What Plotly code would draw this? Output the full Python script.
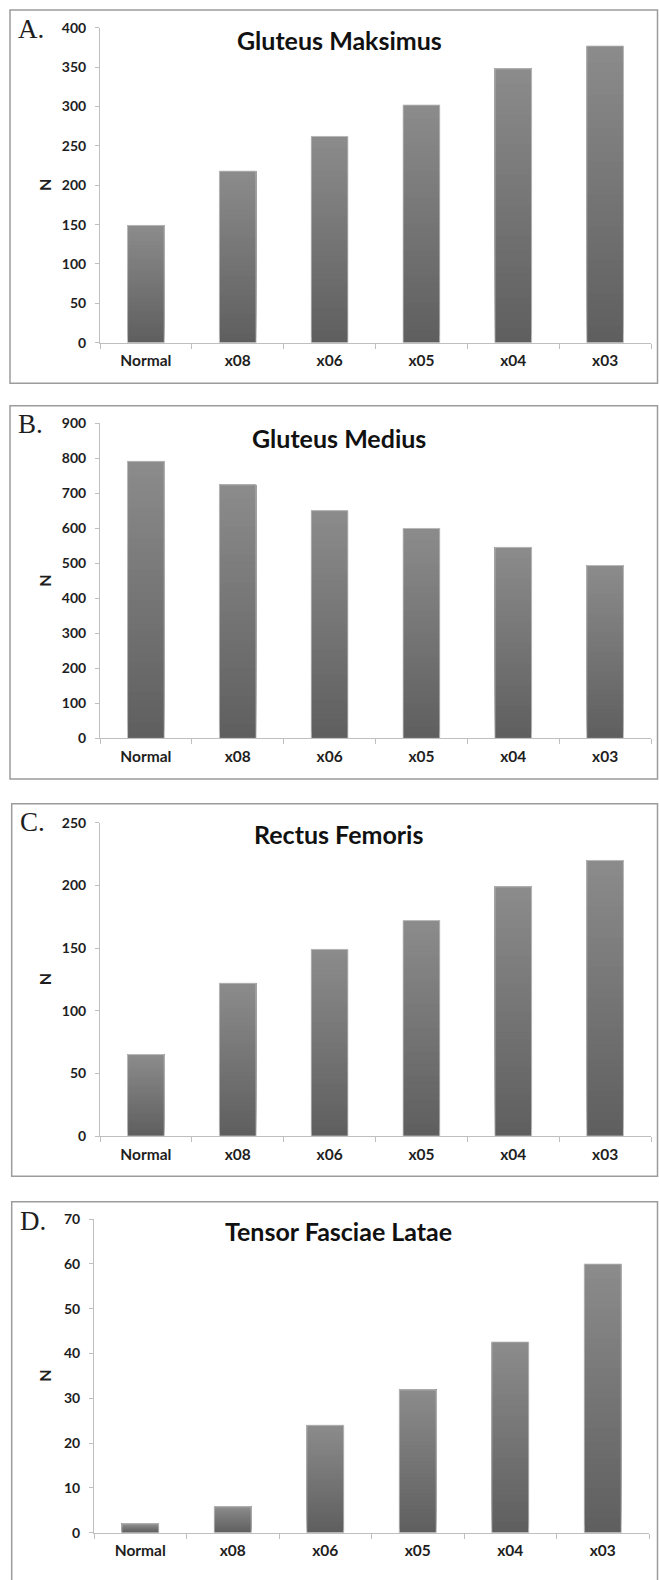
import plotly.graph_objects as go

# ---- data -------------------------------------------------------------
categories = ["Normal", "x08", "x06", "x05", "x04", "x03"]

gluteus_maksimus = [149, 218, 262, 302, 348, 377]
gluteus_medius = [792, 725, 651, 600, 546, 494]
rectus_femoris = [65, 122, 149, 172, 199, 220]
tensor_fasciae_latae = [2, 5.8, 24, 31.9, 42.6, 60]

series = [gluteus_maksimus, gluteus_medius, rectus_femoris, tensor_fasciae_latae]
titles = ["Gluteus Maksimus", "Gluteus Medius", "Rectus Femoris", "Tensor Fasciae Latae"]
panel_letters = ["A.", "B.", "C.", "D."]
y_max = [400, 900, 250, 70]
y_step = [50, 100, 50, 10]
y_title = "N"

# ---- page geometry (pixels from top-left) ----------------------------
W, H = 659, 1580
# plot area: left, right, top, bottom ; frame: left, top, right, bottom
plot_boxes = [
    (100, 651, 19.0, 337.3),
    (100, 651, 419.0, 737.3),
    (100, 651, 822.7, 1139.3),
    (94, 649, 1223.3, 1540.3),
]
frames = [
    (10, 1, 657.5, 378.3),
    (10, 401, 657.5, 778.3),
    (11.7, 803.3, 657.5, 1180),
    (11.7, 1205.7, 657.5, 1600),
]
title_pos = [(339, 31.7), (338.5, 433.3), (338, 834), (338, 1235.7)]
letter_y_offset = 19.0

AXIS_COLOR = "#bfbfbf"
TEXT_COLOR = "#1e1e1e"
FRAME_COLOR = "#9c9c9c"
BAR_BOTTOM = (95, 95, 95)
BAR_TOP = (139, 139, 139)
N_STEPS = 36

SANS = "Lato"
SERIF = "Liberation Serif"


def fx(x):
    return x / W


def fy(y):
    return 1 - y / H


def mix(a, b, t):
    return "rgb({},{},{})".format(*[round(a[i] + (b[i] - a[i]) * t) for i in range(3)])


fig = go.Figure()
layout = dict(
    width=W,
    height=H,
    margin=dict(l=0, r=0, t=0, b=0),
    autosize=False,
    paper_bgcolor="white",
    plot_bgcolor="white",
    showlegend=False,
    barmode="overlay",
    bargap=0.6,
    shapes=[],
    annotations=[],
)

for i, vals in enumerate(series):
    sfx = "" if i == 0 else str(i + 1)
    xa, ya = "x" + sfx, "y" + sfx
    left, right, top, bottom = plot_boxes[i]

    # vertical gradient: each layer covers from its base up to the bar top
    for k in range(N_STEPS):
        frac = k / N_STEPS
        bases = [v * frac for v in vals]
        fig.add_trace(
            go.Bar(
                x=categories,
                y=[v - b for v, b in zip(vals, bases)],
                base=bases,
                marker=dict(color=mix(BAR_BOTTOM, BAR_TOP, k / (N_STEPS - 1)), line=dict(width=0)),
                xaxis=xa,
                yaxis=ya,
                hoverinfo="skip",
            )
        )
    # soft light rim around each bar
    fig.add_trace(
        go.Bar(
            x=categories,
            y=vals,
            marker=dict(color="rgba(0,0,0,0)", line=dict(color="rgba(200,200,200,0.8)", width=1)),
            xaxis=xa,
            yaxis=ya,
            hovertemplate="%{x}: %{y}<extra></extra>",
        )
    )

    layout["xaxis" + sfx] = dict(
        domain=[fx(left), fx(right)],
        anchor=ya,
        type="category",
        categoryorder="array",
        categoryarray=categories,
        range=[-0.5, len(categories) - 0.5],
        showline=True,
        linecolor=AXIS_COLOR,
        linewidth=1,
        ticks="outside",
        tickson="boundaries",
        ticklen=5,
        tickcolor=AXIS_COLOR,
        showgrid=False,
        zeroline=False,
        ticklabelstandoff=4,
        tickfont=dict(family=SANS, size=15.5, color=TEXT_COLOR, weight="bold"),
    )
    layout["yaxis" + sfx] = dict(
        domain=[fy(bottom), fy(top)],
        anchor=xa,
        range=[0, y_max[i]],
        tick0=0,
        dtick=y_step[i],
        showline=True,
        linecolor=AXIS_COLOR,
        linewidth=1,
        ticks="outside",
        ticklen=4,
        tickcolor=AXIS_COLOR,
        showgrid=False,
        zeroline=False,
        ticklabelstandoff=6,
        tickfont=dict(family=SANS, size=14, color=TEXT_COLOR, weight="bold"),
    )

    # frame around the panel
    f0, f1, f2, f3 = frames[i]
    layout["shapes"].append(
        dict(
            type="rect",
            xref="paper",
            yref="paper",
            x0=fx(f0),
            y0=fy(f3),
            x1=fx(f2),
            y1=fy(f1),
            line=dict(color=FRAME_COLOR, width=1.5),
            fillcolor="rgba(0,0,0,0)",
            layer="below",
        )
    )

    # chart title
    tx, ty = title_pos[i]
    layout["annotations"].append(
        dict(
            text=titles[i],
            xref="paper",
            yref="paper",
            x=fx(tx),
            y=fy(ty),
            xanchor="center",
            yanchor="middle",
            showarrow=False,
            font=dict(family=SANS, size=25, color="#111111", weight="bold"),
        )
    )

    # panel letter
    layout["annotations"].append(
        dict(
            text=panel_letters[i],
            xref="paper",
            yref="paper",
            x=fx(f0 + 6),
            y=fy(f1 + letter_y_offset),
            xanchor="left",
            yanchor="middle",
            showarrow=False,
            font=dict(family=SERIF, size=27, color=TEXT_COLOR),
        )
    )

    # rotated axis title
    layout["annotations"].append(
        dict(
            text=y_title,
            xref="paper",
            yref="paper",
            x=fx(44.7),
            y=fy((top + bottom) / 2),
            xanchor="center",
            yanchor="middle",
            textangle=-90,
            showarrow=False,
            font=dict(family=SANS, size=16, color=TEXT_COLOR, weight="bold"),
        )
    )

fig.update_layout(**layout)
fig.write_html("out.html")
